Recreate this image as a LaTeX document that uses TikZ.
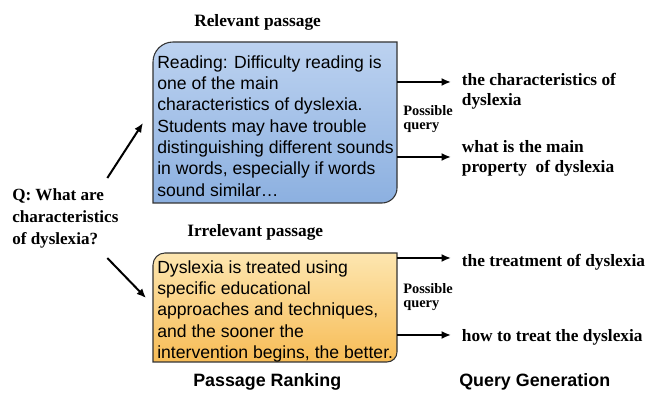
\documentclass[tikz,border=0pt]{standalone}
\usepackage{fontspec}
\setmainfont{Liberation Serif}
\setsansfont{Liberation Sans}
\usetikzlibrary{arrows.meta,calc}

\definecolor{reltop}{RGB}{188,210,240}
\definecolor{relbot}{RGB}{140,176,224}
\definecolor{irrtop}{RGB}{253,230,176}
\definecolor{irrbot}{RGB}{247,188,86}

\begin{document}
\begin{tikzpicture}[x=0.75pt,y=0.75pt,>=Latex,
  passage/.style={font=\sffamily\fontsize{13.2}{16}\selectfont,align=left,anchor=north west,inner sep=0pt},
  heading/.style={font=\bfseries\fontsize{13}{16}\selectfont,anchor=base west,inner sep=0pt},
  query/.style={font=\bfseries\fontsize{13}{15}\selectfont,align=left,inner xsep=8pt,inner ysep=0pt},
  hint/.style={font=\bfseries\fontsize{10.8}{10.5}\selectfont,align=left,anchor=north west,inner sep=0pt},
  stage/.style={font=\sffamily\bfseries\fontsize{13.4}{15}\selectfont,anchor=base west,inner sep=0pt},
  arr/.style={->,line width=1.5pt,>={Latex[length=7pt,width=6pt]}},
  box/.style={draw=black!80,line width=0.8pt}]
\useasboundingbox (0,0) rectangle (650,395);
% passage boxes
\path[box,top color=reltop,bottom color=relbot]
  (153,192) -- (153,333) arc[start angle=180,end angle=90,radius=20] -- (397,353)
  -- (397,207) arc[start angle=0,end angle=-90,radius=15] -- cycle;
\path[box,top color=irrtop,bottom color=irrbot]
  (153,33) -- (153,130) arc[start angle=180,end angle=90,radius=12] -- (397,142)
  -- (397,43) arc[start angle=0,end angle=-90,radius=10] -- cycle;
\node[heading] (relhead) at (194,368) {Relevant passage};
\node[heading] (irrhead) at (187,158) {Irrelevant passage};
\node[passage] (rel) at (157,340) {Reading: Difficulty reading is\\one of the main\\characteristics of dyslexia.\\Students may have trouble\\distinguishing different sounds\\in words, especially if words\\sound similar\dots};
\node[passage] (irr) at (157,135) {Dyslexia is treated using\\specific educational\\approaches and techniques,\\and the sooner the\\intervention begins, the better.};
% question
\node[font=\bfseries\fontsize{12.8}{16.5}\selectfont,align=left,anchor=north west,inner sep=0pt] (q) at (12,207) {Q: What are\\characteristics\\of dyslexia?};
\coordinate (relin) at (143,272);
\coordinate (irrin) at (146,97);
\draw[arr] ($(q.north)+(42,10)$) -- (relin);
\draw[arr] ($(q.south)+(42,-10)$) -- (irrin);
% generated queries
\node[query,anchor=north west] (t1) at (451,322) {the characteristics of\\dyslexia};
\node[query,anchor=north west] (t2) at (451,255) {what is the main\\property\ \ of dyslexia};
\node[query,anchor=base west] (t3) at (451,128) {the treatment of dyslexia};
\node[query,anchor=base west] (t4) at (451,53) {how to treat the dyslexia};
\coordinate (ra1) at (397,313);
\coordinate (ra2) at (397,238);
\coordinate (ia1) at (397,137);
\coordinate (ia2) at (397,60);
\draw[arr] (ra1) -- (ra1 -| t1.west);
\draw[arr] (ra2) -- (ra2 -| t2.west);
\draw[arr] (ia1) -- (ia1 -| t3.west);
\draw[arr] (ia2) -- (ia2 -| t4.west);
\node[hint] (h1) at (403,290) {Possible\\query};
\node[hint] (h2) at (403,112) {Possible\\query};
% stages
\node[stage] (rank) at (193,8) {Passage Ranking};
\node[stage] (gen) at (459,8) {Query Generation};
\end{tikzpicture}
\end{document}
